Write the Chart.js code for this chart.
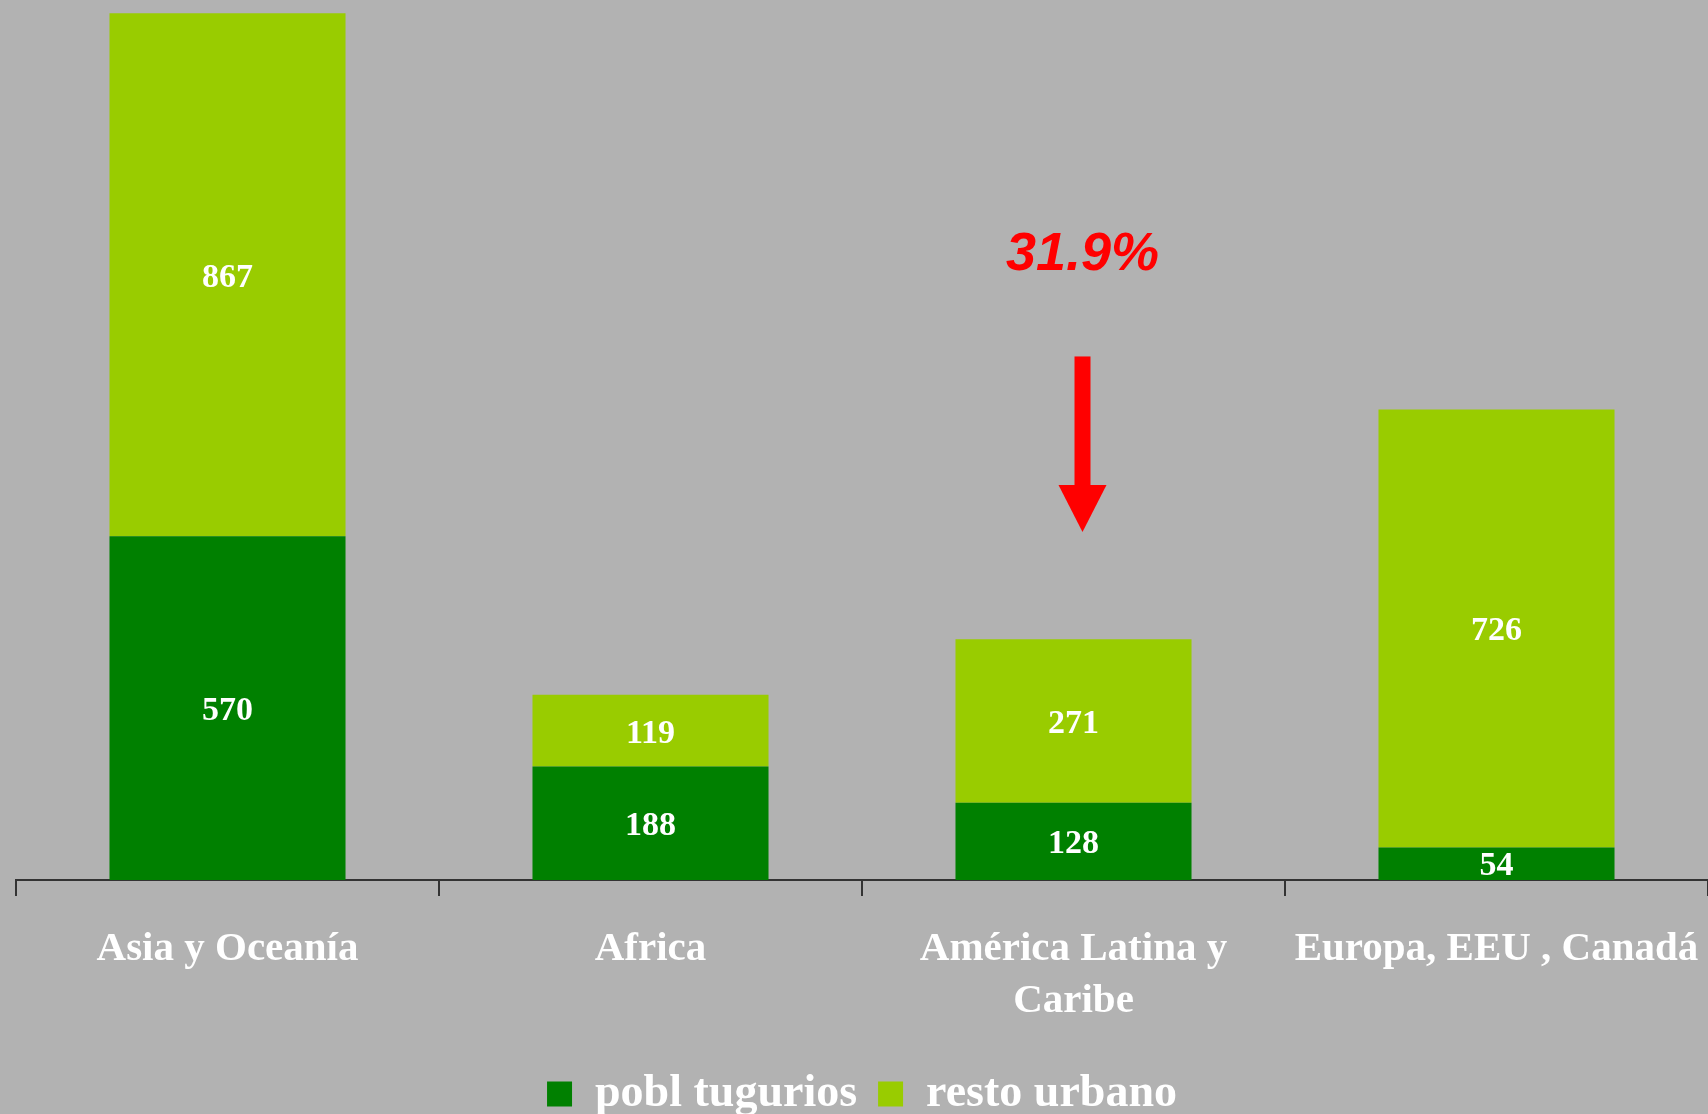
<!DOCTYPE html>
<html>
<head>
<meta charset="utf-8">
<script src="https://cdn.jsdelivr.net/npm/chart.js@4/dist/chart.umd.min.js"></script>
<style>
  html, body { margin: 0; padding: 0; background: #b2b2b2; overflow: hidden; }
  #wrap { width: 1708px; height: 1127px; position: relative; }
</style>
</head>
<body>
<div id="wrap"><canvas id="grafico"></canvas></div>
<script>
// regiones y poblacion urbana (millones)
let regiones = ['Asia y Oceanía', 'Africa', ['América Latina y', 'Caribe'], 'Europa, EEU , Canadá'];
let tugurios = [570, 188, 128, 54];
let restoUrbano = [867, 119, 271, 726];
let nota = '31.9%';

const serif = '"Liberation Serif", "Times New Roman", serif';

// cifras blancas en el centro de cada tramo
let etiquetas = {
  id: 'etiquetas',
  afterDatasetsDraw(chart) {
    const ctx = chart.ctx;
    ctx.save();
    ctx.font = 'bold 34px ' + serif;
    ctx.fillStyle = '#ffffff';
    ctx.textAlign = 'center';
    ctx.textBaseline = 'middle';
    chart.data.datasets.forEach((ds, d) => {
      chart.getDatasetMeta(d).data.forEach((bar, i) => {
        ctx.fillText(ds.data[i], bar.x, (bar.y + bar.base) / 2 + 3);
      });
    });
    ctx.restore();
  }
};

// flecha roja y porcentaje sobre America Latina
let flecha = {
  id: 'flecha',
  afterDraw(chart) {
    const ctx = chart.ctx;
    const x = chart.scales.x.getPixelForValue(2) + 9;
    const y = chart.scales.y;
    const yTexto = y.getPixelForValue(1036);
    const yIni = y.getPixelForValue(868);
    const yCab = y.getPixelForValue(655);
    const yPunta = y.getPixelForValue(577);
    ctx.save();
    ctx.fillStyle = '#ff0000';
    ctx.font = 'italic bold 54px "Liberation Sans", Arial, sans-serif';
    ctx.textAlign = 'center';
    ctx.textBaseline = 'middle';
    ctx.fillText(nota, x, yTexto);
    ctx.fillRect(x - 8, yIni, 16, yCab - yIni + 1);
    ctx.beginPath();
    ctx.moveTo(x - 24, yCab);
    ctx.lineTo(x + 24, yCab);
    ctx.lineTo(x, yPunta);
    ctx.closePath();
    ctx.fill();
    ctx.restore();
  }
};

document.addEventListener('DOMContentLoaded', function () {
  new Chart(document.getElementById('grafico'), {
    type: 'bar',
    data: {
      labels: regiones,
      datasets: [
        { label: 'pobl tugurios', data: tugurios, backgroundColor: '#008000' },
        { label: 'resto urbano', data: restoUrbano, backgroundColor: '#99cc00' }
      ]
    },
    options: {
      responsive: true,
      maintainAspectRatio: false,
      animation: false,
      events: [],
      layout: { padding: { top: 0, left: 16, right: 0, bottom: 0 } },
      datasets: { bar: { categoryPercentage: 1, barPercentage: 0.558 } },
      scales: {
        x: {
          stacked: true,
          border: { color: '#333333', width: 2 },
          grid: { offset: true, drawOnChartArea: false, drawTicks: true, tickLength: 16, color: '#333333', lineWidth: 2 },
          ticks: {
            color: '#ffffff',
            padding: 27,
            maxRotation: 0,
            autoSkip: false,
            font: { family: serif, size: 41, weight: 'bold', lineHeight: 1.28 }
          },
          afterFit(s) {
            s.height = 170;
            s.paddingLeft = 0;
            s.paddingRight = 0;
          }
        },
        y: { stacked: true, display: false, min: 0, max: 1459 }
      },
      plugins: {
        legend: {
          position: 'bottom',
          labels: {
            color: '#ffffff',
            boxWidth: 25,
            boxHeight: 25,
            padding: 21,
            font: { family: serif, size: 46, weight: 'bold' }
          }
        },
        tooltip: { enabled: false }
      }
    },
    plugins: [etiquetas, flecha]
  });
});
</script>
</body>
</html>
